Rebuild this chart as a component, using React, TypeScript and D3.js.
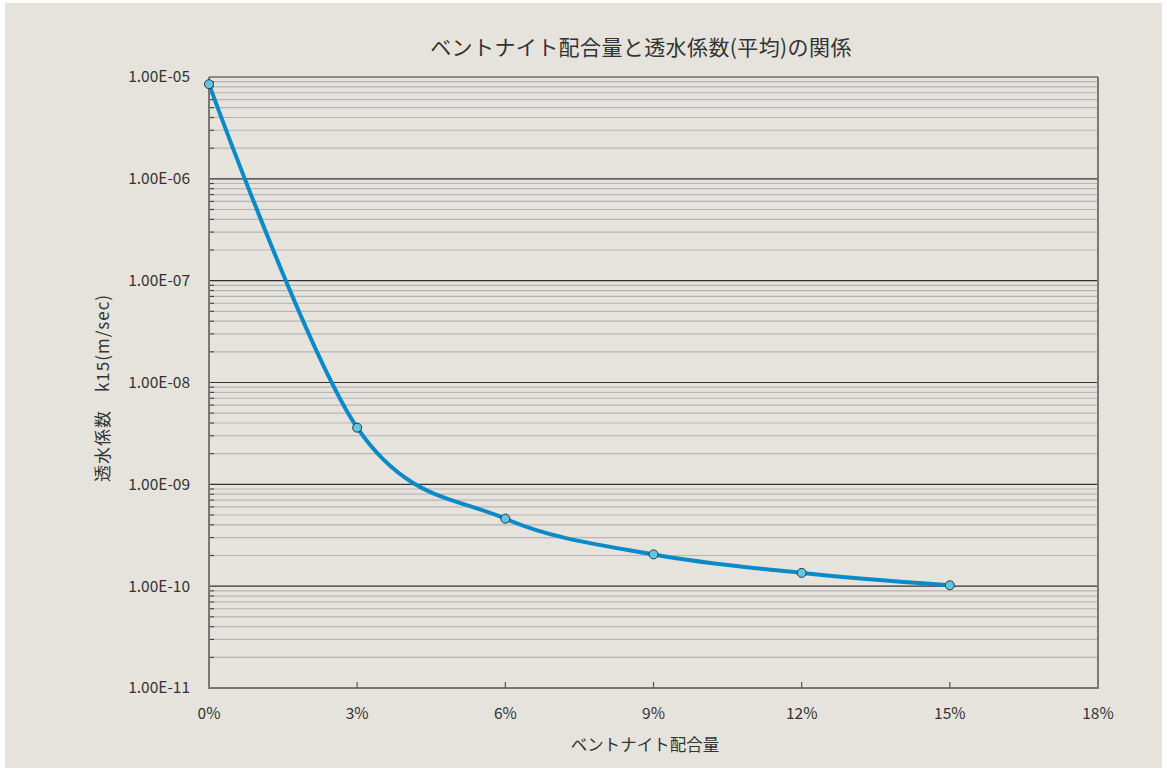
import React, { useEffect, useRef } from "react";
import * as d3 from "d3";

// bentonite content (%) vs permeability k15 (m/sec)
const contents = [0, 3, 6, 9, 12, 15];
const permeability = [8.5e-6, 3.6e-9, 4.6e-10, 2.05e-10, 1.35e-10, 1.02e-10];
const xTicks = [0, 3, 6, 9, 12, 15, 18];
const yDecades = [1e-5, 1e-6, 1e-7, 1e-8, 1e-9, 1e-10, 1e-11];

const title = "ベントナイト配合量と透水係数(平均)の関係";
const xTitle = "ベントナイト配合量";
const yTitle = "透水係数　k15(m/sec)";

const FONT = "'Noto Sans CJK JP', 'Noto Sans', sans-serif";

export default function App() {
  const ref = useRef<SVGSVGElement>(null);

  useEffect(() => {
    const svg = d3.select(ref.current);
    svg.selectAll("*").remove();
    const W = 1167;
    const H = 771;
    const m = { left: 209, right: 1098, top: 77, bottom: 688 };

    svg.append("rect").attr("width", W).attr("height", H).attr("fill", "#ffffff");
    svg.append("rect")
      .attr("x", 5).attr("y", 3).attr("width", 1157).attr("height", 765)
      .attr("fill", "#e6e3dc");

    const x = d3.scaleLinear().domain([0, 18]).range([m.left, m.right]);
    const y = d3.scaleLog().domain([1e-11, 1e-5]).range([m.bottom, m.top]);

    // minor grid
    const minors: number[] = [];
    yDecades.slice(1).forEach((d) => {
      for (let k = 2; k <= 9; k++) minors.push(d * k);
    });
    const g = svg.append("g");
    g.selectAll(".minor").data(minors).enter().append("line")
      .attr("x1", m.left + 5).attr("x2", m.right)
      .attr("y1", (d) => y(d)).attr("y2", (d) => y(d))
      .attr("stroke", "#b3b5b8").attr("stroke-width", 1.2);
    g.selectAll(".mtick").data(minors).enter().append("line")
      .attr("x1", m.left).attr("x2", m.left + 5)
      .attr("y1", (d) => y(d)).attr("y2", (d) => y(d))
      .attr("stroke", "#444").attr("stroke-width", 1.2);
    // major grid
    g.selectAll(".major").data(yDecades).enter().append("line")
      .attr("x1", m.left).attr("x2", m.right)
      .attr("y1", (d) => y(d)).attr("y2", (d) => y(d))
      .attr("stroke", "#333").attr("stroke-width", 1.2);

    // frame
    svg.append("line").attr("x1", m.right).attr("x2", m.right).attr("y1", m.top).attr("y2", m.bottom)
      .attr("stroke", "#7a7876").attr("stroke-width", 2);
    svg.append("line").attr("x1", m.left).attr("x2", m.left).attr("y1", m.top).attr("y2", m.bottom + 1)
      .attr("stroke", "#7a7876").attr("stroke-width", 2);
    svg.append("line").attr("x1", m.left).attr("x2", m.right + 1).attr("y1", m.bottom).attr("y2", m.bottom)
      .attr("stroke", "#7a7876").attr("stroke-width", 2);
    svg.selectAll(".xtick").data(xTicks.slice(1, -1)).enter().append("line")
      .attr("x1", (d) => x(d)).attr("x2", (d) => x(d))
      .attr("y1", m.bottom).attr("y2", m.bottom - 6)
      .attr("stroke", "#555").attr("stroke-width", 1.2);

    // tick labels
    const fmt = (d: number) => "1.00E-" + String(Math.round(-Math.log10(d))).padStart(2, "0");
    svg.selectAll(".ylab").data(yDecades).enter().append("text")
      .attr("x", 190).attr("y", (d) => y(d)).attr("dy", "0.35em")
      .attr("text-anchor", "end").attr("font-family", FONT).attr("font-size", 15.5)
      .attr("fill", "#333").text(fmt);
    svg.selectAll(".xlab").data(xTicks).enter().append("text")
      .attr("x", (d) => x(d)).attr("y", 719)
      .attr("text-anchor", "middle").attr("font-family", FONT).attr("font-size", 15.5)
      .attr("fill", "#333").text((d) => d + "%");

    // series
    const pts = contents.map((c, i) => [c, permeability[i]] as [number, number]);
    const line = d3.line<[number, number]>()
      .x((d) => x(d[0])).y((d) => y(d[1]))
      .curve(d3.curveCardinal.tension(0));
    svg.append("path").datum(pts).attr("d", line)
      .attr("fill", "none").attr("stroke", "#0a8ac8").attr("stroke-width", 4)
      .attr("stroke-linejoin", "round");
    svg.selectAll(".pt").data(pts).enter().append("circle")
      .attr("cx", (d) => x(d[0])).attr("cy", (d) => y(d[1])).attr("r", 4.5)
      .attr("fill", "#5cc8e8").attr("stroke", "#333").attr("stroke-width", 1);

    // titles
    svg.append("text").attr("x", 641).attr("y", 55).attr("text-anchor", "middle")
      .attr("font-family", FONT).attr("font-size", 21).attr("letter-spacing", 0.4)
      .attr("fill", "#333").text(title);
    svg.append("text").attr("x", 645).attr("y", 751).attr("text-anchor", "middle")
      .attr("font-family", FONT).attr("font-size", 16.5).attr("fill", "#333").text(xTitle);
    svg.append("text")
      .attr("transform", "translate(109,388) rotate(-90)")
      .attr("text-anchor", "middle").attr("letter-spacing", 1)
      .attr("font-family", FONT).attr("font-size", 17).attr("fill", "#333").text(yTitle);
  }, []);

  return (
    <div style={{ position: "absolute", left: 0, top: 0 }}>
      <svg ref={ref} width={1167} height={771} style={{ display: "block" }} />
    </div>
  );
}
